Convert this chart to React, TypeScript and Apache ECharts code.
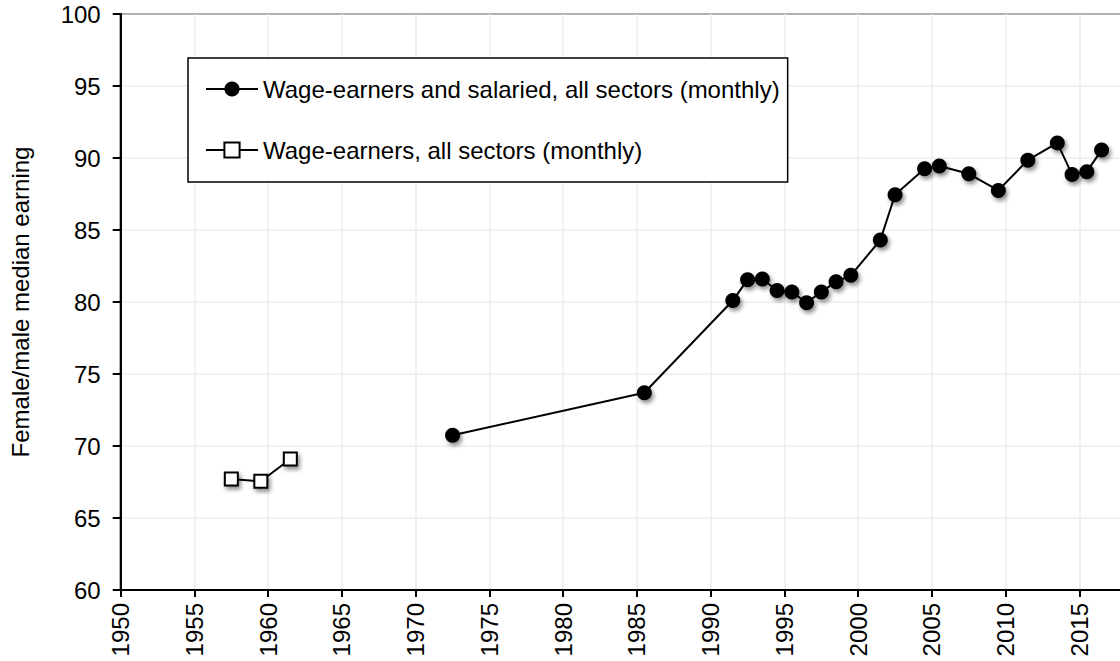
import React, { useEffect, useRef } from "react";
import * as echarts from "echarts";

const seriesNames = [
  "Wage-earners and salaried, all sectors (monthly)",
  "Wage-earners, all sectors (monthly)",
];

const salariedYears = [1972, 1985, 1991, 1992, 1993, 1994, 1995, 1996, 1997, 1998, 1999, 2001, 2002, 2004, 2005, 2007, 2009, 2011, 2013, 2014, 2015, 2016];
const salariedValues = [70.75, 73.7, 80.1, 81.55, 81.6, 80.8, 80.7, 79.95, 80.7, 81.4, 81.85, 84.3, 87.45, 89.25, 89.45, 88.9, 87.75, 89.85, 91.05, 88.85, 89.05, 90.55];

const wageYears = [1957, 1959, 1961];
const wageValues = [67.7, 67.55, 69.1];

const yAxisTitle = "Female/male median earning";
const MID_YEAR = 0.5;

const FONT = "'Liberation Sans', Arial, Helvetica, sans-serif";

export default function App() {
  const ref = useRef<HTMLDivElement>(null);

  useEffect(() => {
    if (!ref.current) return;
    const chart = echarts.init(ref.current, undefined, { renderer: "svg" });
    const shadow = {
      shadowBlur: 4,
      shadowOffsetX: 2,
      shadowOffsetY: 3,
      shadowColor: "rgba(0,0,0,0.45)",
    };
    chart.setOption({
      animation: false,
      backgroundColor: "#ffffff",
      textStyle: { fontFamily: FONT },
      grid: {
        left: 120.7,
        top: 14,
        right: 6.3,
        bottom: 71,
        show: true,
        borderColor: "#000",
        borderWidth: 2,
        backgroundColor: "transparent",
      },
      legend: {
        orient: "vertical",
        left: 188,
        top: 58,
        padding: [19, 8, 20, 17],
        itemGap: 37,
        itemWidth: 52,
        itemHeight: 19,
        itemStyle: { shadowBlur: 0, shadowOffsetX: 0, shadowOffsetY: 0, shadowColor: "transparent" },
        borderColor: "#000",
        borderWidth: 1.5,
        backgroundColor: "#fff",
        textStyle: { fontSize: 24, color: "#000", fontFamily: FONT },
        itemTextGap: 5,
        data: seriesNames,
      },
      xAxis: {
        type: "value",
        min: 1950,
        max: 2018,
        interval: 5,
        axisLine: { show: true, onZero: false, lineStyle: { color: "#000", width: 2 } },
        axisTick: { show: true, length: 7, lineStyle: { color: "#000", width: 2 } },
        axisLabel: {
          rotate: 90,
          margin: 13,
          fontSize: 24,
          color: "#000",
          fontFamily: FONT,
          formatter: (v: number) => (v % 5 === 0 ? String(v) : ""),
        },
        splitLine: { show: true, lineStyle: { color: "#ececec", width: 1.5 } },
      },
      yAxis: {
        type: "value",
        min: 60,
        max: 100,
        interval: 5,
        name: yAxisTitle,
        nameLocation: "middle",
        nameGap: 88,
        nameTextStyle: { fontSize: 24, color: "#000", fontFamily: FONT },
        axisLine: { show: true, lineStyle: { color: "#000", width: 2 } },
        axisTick: { show: true, length: 8, lineStyle: { color: "#000", width: 2 } },
        axisLabel: { margin: 20, fontSize: 24, color: "#000", fontFamily: FONT },
        splitLine: { show: true, lineStyle: { color: "#ececec", width: 1.5 } },
      },
      series: [
        {
          name: seriesNames[0],
          type: "line",
          data: salariedYears.map((y, i) => [y + MID_YEAR, salariedValues[i]]),
          symbol: "circle",
          symbolSize: 15,
          showAllSymbol: true,
          lineStyle: { color: "#000", width: 2 },
          itemStyle: { color: "#000", borderColor: "#000", borderWidth: 0, ...shadow },
          z: 3,
        },
        {
          name: seriesNames[1],
          type: "line",
          data: wageYears.map((y, i) => [y + MID_YEAR, wageValues[i]]),
          symbol: "rect",
          symbolSize: 13,
          showAllSymbol: true,
          lineStyle: { color: "#000", width: 2 },
          itemStyle: { color: "#fff", borderColor: "#000", borderWidth: 2, ...shadow },
          z: 3,
        },
      ],
    });
    return () => chart.dispose();
  }, []);

  return (
    <div
      ref={ref}
      style={{ position: "fixed", left: 0, top: 0, width: 1130, height: 661, background: "#fff" }}
    />
  );
}
